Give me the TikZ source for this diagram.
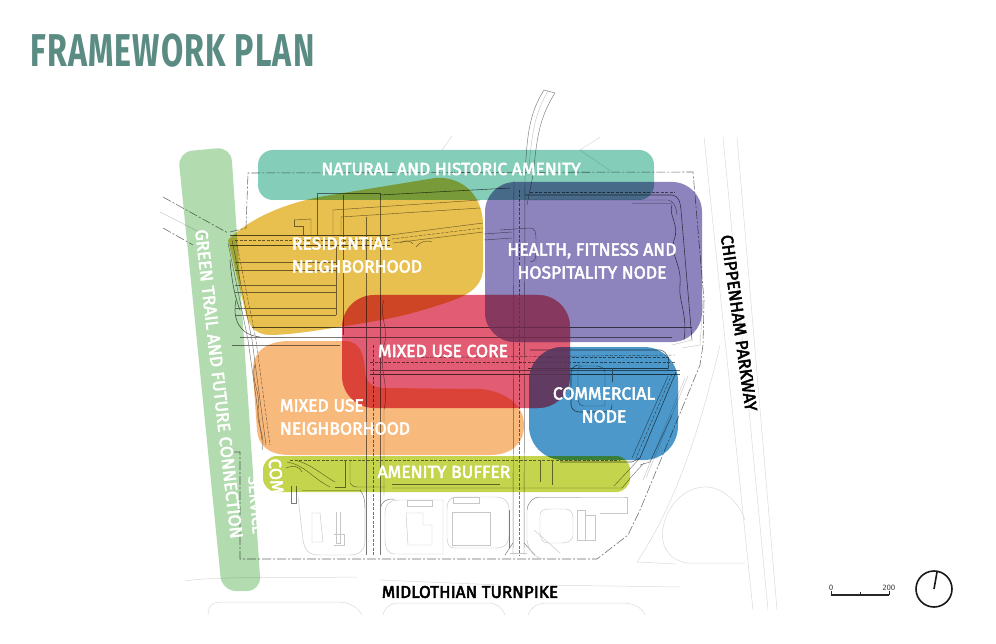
\documentclass[tikz,border=0pt]{standalone}
\usepackage{fontspec}
\setmainfont{Fira Sans}
\newfontfamily\titlefont[FakeStretch=0.70,LetterSpace=2.5]{Fira Sans}
\newfontfamily\labelfont[FakeBold=2.8]{Fira Sans}
\usetikzlibrary{positioning,calc}
\definecolor{titleclr}{RGB}{91,140,132}
\definecolor{trailclr}{RGB}{178,220,176}
\definecolor{amenityclr}{RGB}{132,205,184}
\definecolor{residclr}{RGB}{232,192,80}
\definecolor{healthclr}{RGB}{141,132,190}
\definecolor{coreclr}{RGB}{226,92,116}
\definecolor{mixedclr}{RGB}{248,186,124}
\definecolor{commclr}{RGB}{76,152,202}
\definecolor{bufferclr}{RGB}{196,212,76}
\definecolor{overhealth}{RGB}{142,62,100}
\definecolor{overcomm}{RGB}{112,62,102}

\begin{document}
\begin{tikzpicture}[
    x=1pt,
    y=-1pt,
    zone/.style={blend mode=multiply},
    planline/.style={draw=black!52, line width=0.45pt},
    plandark/.style={draw=black!65, line width=0.55pt},
    plandash/.style={draw=black!55, line width=0.45pt, dash pattern=on 3pt off 1.5pt},
    planlight/.style={draw=black!22, line width=0.45pt},
    planfaint/.style={draw=black!14, line width=0.5pt},
    boundary/.style={draw=black!58, line width=0.55pt, dash pattern=on 9pt off 2pt on 2pt off 2pt},
    whitelabel/.style={text=white, font=\labelfont\fontsize{17.5}{23}\selectfont, inner sep=0pt, align=center},
    blacklabel/.style={text=black, font=\labelfont\fontsize{17.1}{20}\selectfont, inner sep=0pt}
]
\useasboundingbox (0,0) rectangle (996,644);
\fill[white] (0,0) rectangle (996,644);

% Outer roads.
\draw[planfaint] (704,137) -- (753,610);
\draw[planfaint] (723,137) -- (768,610);
\draw[planfaint] (737,137) -- (777,610);
\draw[planfaint] (637,562) .. controls (675,505) and (700,430) .. (720,345);
\draw[planfaint] (637,562) -- (676,564);
\draw[planfaint] (745,563) -- (687,563) .. controls (668,560) and (660,545) .. (663,528) .. controls (668,500) and (690,486) .. (707,487) .. controls (725,488) and (740,505) .. (745,520);
\draw[planfaint] (185,581) .. controls (215,576) and (300,578) .. (357,577);
\draw[planfaint] (540,585) -- (680,587);
\draw[planfaint] (380,580) -- (500,585);
\draw[planfaint] (208,615) .. controls (208,603) and (215,602) .. (225,602) -- (340,602) .. controls (352,603) and (358,608) .. (362,615);
\draw[planfaint] (383,615) .. controls (385,606) and (392,603) .. (400,603) -- (490,603) .. controls (498,604) and (502,608) .. (505,615);
\draw[planfaint] (528,615) .. controls (532,606) and (538,603) .. (548,603) -- (625,603) .. controls (635,604) and (642,608) .. (645,615);
\draw[planfaint] (612,172) -- (580,150) -- (600,137);
\draw[planfaint] (452,136) -- (442,150);

% West approach.
\draw[boundary] (163,197) -- (228,233);
\draw[boundary] (163,228) -- (193,245);
\draw[planlight] (160,212) -- (205,235);
\draw[planline] (228,243) -- (248,340) -- (262,440);
\draw[planline] (232,240) -- (252,340) -- (266,445);
\draw[plandash] (236,240) -- (256,340) -- (270,445);

% Site boundary.
\draw[boundary] (230,232) -- (246,228) -- (248,173) -- (693,172) -- (704,300) -- (703,345) -- (700,365) -- (640,510) -- (628,535) -- (597,559) -- (240,559) -- (240,452) -- (233,452);

% Access road from the north.
\draw[planline] (544,90) .. controls (528,115) and (527,140) .. (525,175) -- (524,555);
\draw[planline] (555,93) .. controls (538,120) and (537,140) .. (533,175) -- (527,205);
\draw[planlight] (548,91) .. controls (532,118) and (532,140) .. (528,175);
\draw[planline] (514,180) -- (513,555);
\draw[plandash] (519,190) -- (519,555);
\draw[planline] (544,90) -- (555,93);

% Street grid.
\draw[plandark] (252,327) -- (692,327);
\draw[planline] (240,337) -- (672,337);
\draw[planline] (232,345) -- (340,345);
\draw[planline] (370,370) -- (680,370);
\draw[plandark] (370,374) -- (680,374);
\draw[plandash] (370,362) -- (675,362);
\draw[plandash] (385,358) -- (675,355);
\draw[planline] (343,195) -- (343,335);
\draw[planline] (366,217) -- (366,555);
\draw[plandash] (373,345) -- (373,555);
\draw[planline] (380,193) -- (380,555);
\draw[planline] (384,300) .. controls (378,315) and (390,330) .. (384,345) .. controls (378,370) and (390,385) .. (384,410) -- (384,495);

% Residential blocks.
\draw[plandark] (230,235) -- (390,235);
\draw[plandark] (230,245) -- (390,245);
\draw[plandash] (235,240) -- (390,240);
\foreach \ypos in {262,270,285,292,308,315} {
    \draw[planline] (235,\ypos) -- (336,\ypos);
}
\draw[planline] (336,245) -- (336,315);
\draw[planline] (317,235) -- (317,193) -- (380,193);
\draw[planline] (294,220) -- (311,219) -- (311,235);
\draw[planline] (294,220) -- (294,226) -- (303,226) -- (303,235);
\draw[planline] (333,235) -- (333,210) -- (480,200);
\draw[planline] (341,235) -- (341,217) -- (480,208);
\draw[plandark] (380,195) -- (510,188);
\draw[planline] (390,235) -- (483,223);
\draw[planline] (393,243) -- (483,232);
\draw[plandash] (392,239) -- (483,228);
\draw[planline] (400,243) .. controls (405,240) and (410,240) .. (413,244);
\draw[planline] (416,247) .. controls (420,241) and (428,240) .. (432,242);
\draw[plandark] (236,300) .. controls (232,320) and (240,335) .. (260,337);
\draw[plandark] (230,260) .. controls (232,285) and (236,300) .. (240,310);

% Health node drives.
\draw[plandark] (525,195) -- (672,195) .. controls (678,196) and (680,200) .. (681,210) -- (692,340);
\draw[planline] (525,200) -- (668,200) .. controls (673,201) and (676,205) .. (677,215);
\draw[plandash] (530,192) -- (675,192);
\draw[planlight] (632,203) -- (672,203);
\draw[plandark] (672,205) .. controls (668,215) and (680,225) .. (674,240) .. controls (670,255) and (682,265) .. (680,285) .. controls (678,300) and (688,315) .. (684,340);
\draw[planline] (500,230) -- (530,228) .. controls (535,228) and (536,232) .. (536,240) -- (536,262);
\draw[planline] (484,234) -- (512,232);
\draw[planline] (484,240) -- (512,238);
\draw[planline] (530,262) .. controls (535,262) and (536,258) .. (536,252);
\draw[planlight] (692,340) -- (672,345);
\draw[planlight] (703,300) -- (700,345) -- (682,348);

% Commercial node drives.
\draw[plandark] (530,350) -- (660,350) .. controls (668,352) and (670,358) .. (668,370);
\draw[plandash] (540,357) -- (670,357);
\draw[plandark] (528,368) -- (668,368);
\draw[plandark] (580,365) .. controls (572,365) and (571,370) .. (571,375) -- (571,405) .. controls (572,410) and (575,412) .. (580,412) -- (605,412) .. controls (610,412) and (612,410) .. (612,405);
\draw[planline] (578,370) -- (578,400) .. controls (578,403) and (580,406) .. (584,406) -- (605,406) -- (605,372) .. controls (605,368) and (600,366) .. (596,366) -- (582,366) .. controls (579,366) and (578,368) .. (578,370);
\draw[planline] (612,368) -- (612,382);
\draw[plandark] (676,372) -- (640,458);
\draw[planline] (668,376) -- (632,458);
\draw[plandash] (672,374) -- (636,458);
\draw[plandark] (640,458) -- (632,462) -- (560,462);
\draw[planlight] (643,480) -- (685,378);
\draw[planlight] (646,478) -- (688,376);
\draw[planline] (640,465) -- (650,462) -- (672,415);

% Mixed use edge.
\draw[planline] (255,365) .. controls (250,380) and (262,395) .. (258,410) .. controls (256,425) and (266,435) .. (262,450);

% Amenity buffer.
\draw[plandash] (290,460) -- (620,460);
\draw[planline] (287,462) .. controls (305,465) and (312,478) .. (330,487);
\draw[planline] (295,460) .. controls (313,465) and (322,475) .. (335,482);
\draw[planline] (302,472) .. controls (300,466) and (292,465) .. (286,468);
\draw[planline] (335,487) -- (345,487) -- (345,460);
\draw[planline] (350,460) -- (350,483) .. controls (351,486) and (354,487) .. (358,487) -- (385,487);
\draw[planline] (392,484) -- (500,484);
\draw[planline] (392,488) -- (622,488) -- (632,476) -- (644,463);
\draw[planline] (540,460) -- (540,482);
\draw[planline] (552,460) -- (552,485);
\draw[planline] (614,486) -- (640,458);

% Parcels along the turnpike.
\draw[planline] (291,486) -- (291,503);
\draw[planline] (296,486) -- (296,503) -- (291,503);
\draw[planline] (360,490) .. controls (364,495) and (365,500) .. (365,510) -- (365,540);
\draw[planline] (380,510) .. controls (382,500) and (386,499) .. (395,499);
\draw[planlight] (298,497) -- (303,540) .. controls (305,552) and (310,555) .. (320,555) -- (350,555) .. controls (360,555) and (365,550) .. (365,540);
\draw[planlight] (302,490) -- (360,490);
\draw[planlight] (312,513) -- (320,513) -- (323,542) -- (312,542) -- cycle;
\draw[planlight] (336,512) -- (336,543);
\draw[planlight] (340,512) -- (340,543) -- (336,543);
\draw[planlight] (334,534) -- (344,534) -- (344,545) -- (334,545);
\draw[planlight] (385,515) .. controls (385,503) and (390,500) .. (400,500) -- (443,500) -- (443,554) -- (395,554) .. controls (388,554) and (385,548) .. (385,540) -- cycle;
\draw[planlight] (407,500) -- (432,500) -- (432,506) -- (407,506) -- cycle;
\draw[planlight] (406,513) -- (423,513) -- (423,525) -- (432,525) -- (432,545) -- (408,545) -- cycle;
\draw[planlight] (447,510) .. controls (447,500) and (450,497) .. (460,497) -- (495,497) .. controls (505,497) and (509,502) .. (509,510) -- (509,535) .. controls (509,544) and (505,548) .. (495,548) -- (455,548) .. controls (450,548) and (447,545) .. (447,538) -- cycle;
\draw[planlight] (452,512) -- (490,512) -- (490,545) -- (452,545) -- cycle;
\draw[planlight] (453,497) -- (479,497) -- (479,503) -- (453,503) -- cycle;
\draw[planline] (509,510) -- (509,548);
\draw[planline] (505,555) -- (513,543);
\draw[planline] (535,555) -- (524,543);
\draw[planlight] (510,553) -- (527,553);
\draw[planline] (527,510) .. controls (528,502) and (533,497) .. (540,497);
\draw[planlight] (527,510) -- (527,540) .. controls (528,550) and (535,559) .. (545,559);
\draw[planlight] (540,497) -- (620,497) -- (627,497) -- (627,513) -- (600,513);
\draw[planlight] (540,515) .. controls (540,510) and (545,509) .. (550,509) -- (565,509) .. controls (570,509) and (573,512) .. (573,518) -- (573,535) .. controls (573,540) and (568,543) .. (562,543) -- (548,543) .. controls (542,543) and (540,538) .. (540,532) -- cycle;
\draw[planlight] (577,510) -- (585,510) -- (585,540) -- (577,540) -- cycle;
\draw[planlight] (585,515) -- (595,515) -- (595,540) -- (585,540);
\draw[planlight] (534,530) -- (560,553);

% Planning zones.
\fill[zone, trailclr, rounded corners=14pt] (178,152) -- (231,147) -- (261,591) -- (222,591) -- cycle;
\fill[zone, rounded corners=15pt, amenityclr] (258,150) rectangle (654,200);
\fill[zone, residclr] (228,240) .. controls (250,218) and (285,203) .. (325,196) -- (435,178) .. controls (462,176) and (483,195) .. (483,225) -- (483,268) .. controls (483,288) and (465,297) .. (445,303) .. controls (410,315) and (385,320) .. (345,326) .. controls (310,332) and (285,335) .. (270,335) .. controls (255,335) and (248,325) .. (245,310) -- cycle;
\fill[zone, mixedclr] (253,375) .. controls (251,350) and (268,341) .. (290,341) -- (345,341) .. controls (360,341) and (364,355) .. (365,370) .. controls (365,382) and (372,388) .. (385,388) -- (480,389) .. controls (505,391) and (524,405) .. (524,425) .. controls (524,445) and (510,455) .. (490,455) -- (290,455) .. controls (268,455) and (258,445) .. (257,430) -- cycle;
\fill[zone, rounded corners=30pt, healthclr] (485,182) rectangle (702,342);
\fill[zone, rounded corners=32pt, coreclr] (342,295) rectangle (570,408);
\fill[zone, rounded corners=34pt, commclr] (529,347) rectangle (678,460);
\fill[zone, rounded corners=14pt, bufferclr] (263,456) rectangle (630,492);

% Overlaps of the core.
\begin{scope}
\clip[rounded corners=32pt] (342,295) rectangle (570,408);
\fill[rounded corners=30pt, overhealth, opacity=0.6] (485,182) rectangle (702,342);
\fill[rounded corners=34pt, overcomm, opacity=0.7] (529,347) rectangle (678,460);
\end{scope}

% Zone labels.
\node[whitelabel] (amenity_lbl) at (451,169) {NATURAL AND HISTORIC AMENITY};
\node[whitelabel, align=left] (resid_lbl) at (357,255) {RESIDENTIAL\\NEIGHBORHOOD};
\node[whitelabel] (health_lbl) at (592,261) {HEALTH, FITNESS AND\\HOSPITALITY NODE};
\node[whitelabel] (core_lbl) at (443,351) {MIXED USE CORE};
\node[whitelabel, align=left] (mixed_lbl) at (345,417) {MIXED USE\\NEIGHBORHOOD};
\node[whitelabel] (comm_lbl) at (604,405) {COMMERCIAL\\NODE};
\node[whitelabel] (buffer_lbl) at (444,472) {AMENITY BUFFER};
\node[whitelabel, rotate=-83.4] (trail_lbl) at (219,384) {GREEN TRAIL AND FUTURE CONNECTION};
\node[whitelabel, rotate=-85] (com_lbl) at (276,476) {COM};
\node[whitelabel, rotate=-85, font=\labelfont\fontsize{16}{16}\selectfont] (service_lbl) at (256,505) {SERVICE};

% Road names.
\node[blacklabel] (turnpike_lbl) at (470,592) {MIDLOTHIAN TURNPIKE};
\node[blacklabel, rotate=-82] (parkway_lbl) at (739,323) {CHIPPENHAM PARKWAY};

% Title.
\node[anchor=west, inner sep=0pt, text=titleclr, font=\titlefont\bfseries\fontsize{46}{50}\selectfont] (title) at (30,51) {FRAMEWORK PLAN};

% Scale and north.
\coordinate (bar_l) at (831,595);
\coordinate (bar_r) at (889,595);
\draw[line width=2.2pt, black!85] (bar_l) -- (bar_r);
\draw[line width=0.6pt, black!85] (bar_l) -- ++(0,-4);
\draw[line width=0.6pt, black!85] (bar_r) -- ++(0,-4);
\draw[line width=0.6pt, black!85] ($(bar_l)!0.5!(bar_r)$) -- ++(0,-3);
\node[inner sep=0pt, text=black!75, font=\fontsize{8}{9}\selectfont] (scale_0) at (831,588) {0};
\node[inner sep=0pt, text=black!75, font=\fontsize{8}{9}\selectfont] (scale_200) at (889,588) {200};
\node[draw=black!90, circle, line width=1.6pt, minimum size=36pt, inner sep=0pt] (north) at (934,589) {};
\draw[line width=1.6pt, black!90] (north.center) -- (937,572);

\end{tikzpicture}
\end{document}
